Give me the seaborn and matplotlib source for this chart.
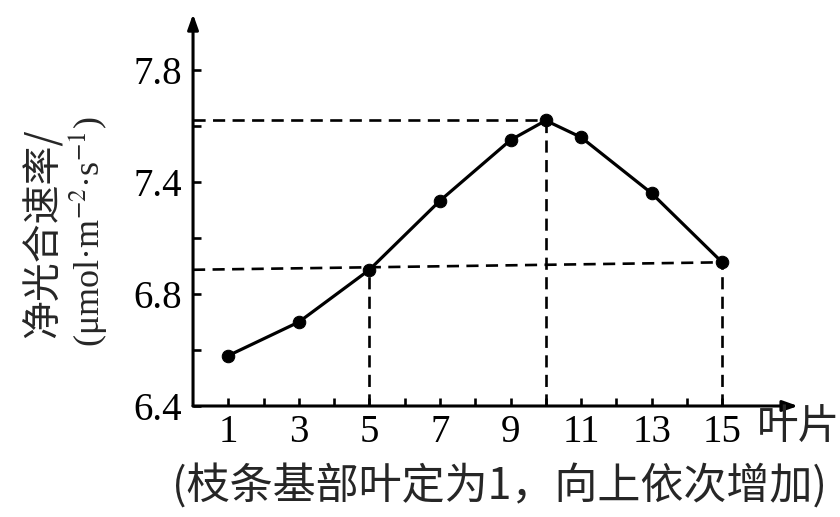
import numpy as np
import pandas as pd
import matplotlib
matplotlib.use("Agg")
import matplotlib.pyplot as plt
import seaborn as sns

# Leaf position (counted from the base of the shoot) and net photosynthetic rate
leaf_pos = [1, 3, 5, 7, 9, 10, 11, 13, 15]
net_rate = [6.58, 6.70, 6.93, 7.30, 7.55, 7.62, 7.56, 7.34, 6.97]

x_ticks = list(range(1, 16))
x_labels = [str(v) if v % 2 == 1 else "" for v in x_ticks]

# The printed y axis has evenly spaced ticks but uneven label steps
y_break_vals = [6.4, 6.8, 7.4, 7.8]
y_ticks = [6.4, 6.6, 6.8, 7.1, 7.4, 7.6, 7.8]
y_labels = ["6.4", "", "6.8", "", "7.4", "", "7.8"]

sns.set_style("white")
plt.rcParams["font.family"] = ["Liberation Serif", "Noto Sans CJK SC", "DejaVu Sans"]
plt.rcParams["mathtext.fontset"] = "stix"

# piecewise-linear y scale (extrapolated beyond the labelled range)
_vals = np.array([6.0] + y_break_vals + [8.2])
_idx = np.array([-2.0, 0.0, 2.0, 4.0, 6.0, 8.0])


def fwd(v):
    return np.interp(v, _vals, _idx)


def inv(u):
    return np.interp(u, _idx, _vals)


df = pd.DataFrame({"leaf": leaf_pos, "rate": net_rate})

fig = plt.figure(figsize=(8.4, 5.17), dpi=100)
ax = fig.add_axes([0.2298, 0.2147, 0.7202, 0.758])
ax.set_yscale("function", functions=(fwd, inv))
ax.set_xlim(0, 17.15)
ax.set_ylim(6.4, 8.0)

# dashed guide lines to the peak and to leaves 5 and 15
peak_i = int(np.argmax(net_rate))
px, py = leaf_pos[peak_i], net_rate[peak_i]
i5, i15 = leaf_pos.index(5), leaf_pos.index(15)
dash = dict(color="black", lw=1.9, ls=(0, (4.6, 2.8)), zorder=1)
ax.plot([0, px], [py, py], **dash)
ax.plot([px, px], [6.4, py], **dash)
ax.plot([0, 15], [net_rate[i5], net_rate[i15]], **dash)
ax.plot([5, 5], [6.4, net_rate[i5]], **dash)
ax.plot([15, 15], [6.4, net_rate[i15]], **dash)

sns.lineplot(data=df, x="leaf", y="rate", ax=ax, color="black", lw=2.3,
             marker="o", markersize=9, markeredgecolor="black", zorder=3)

for s in ax.spines.values():
    s.set_visible(False)

arrow = dict(arrowstyle="-|>,head_length=0.9,head_width=0.32", lw=2.2,
             color="black", shrinkA=0, shrinkB=0)
ax.annotate("", xy=(1.0, 0), xytext=(0, 0), xycoords="axes fraction",
            arrowprops=arrow, annotation_clip=False)
ax.annotate("", xy=(0, 1.0), xytext=(0, 0), xycoords="axes fraction",
            arrowprops=arrow, annotation_clip=False)

ax.set_xticks(x_ticks)
ax.set_xticklabels(x_labels)
ax.set_yticks(y_ticks)
ax.set_yticklabels(y_labels)
ax.minorticks_off()
ax.tick_params(axis="both", direction="in", length=5.5, width=1.9, color="black",
               labelsize=28, labelcolor="black", bottom=True, left=True)
ax.tick_params(axis="x", pad=6)
ax.tick_params(axis="y", pad=8)
ax.set_xlabel("")
ax.set_ylabel("")

fig.text(0.901, 1 - 428 / 517, "叶片", fontsize=30, va="center", ha="left",
         family=["Noto Sans CJK SC"])
fig.text(0.595, 1 - 487 / 517, "(枝条基部叶定为1，向上依次增加)", fontsize=31,
         va="center", ha="center", family=["Noto Sans CJK SC", "Liberation Serif"])
fig.text(0.052, 1 - 233 / 517, "净光合速率/", fontsize=28, rotation=90,
         va="center", ha="center", family=["Noto Sans CJK SC"])
fig.text(0.104, 1 - 232 / 517, r"(μmol·m$^{-2}$·s$^{-1}$)", fontsize=26,
         rotation=90, va="center", ha="center")

fig.savefig("out.png", dpi=100, facecolor="white")
